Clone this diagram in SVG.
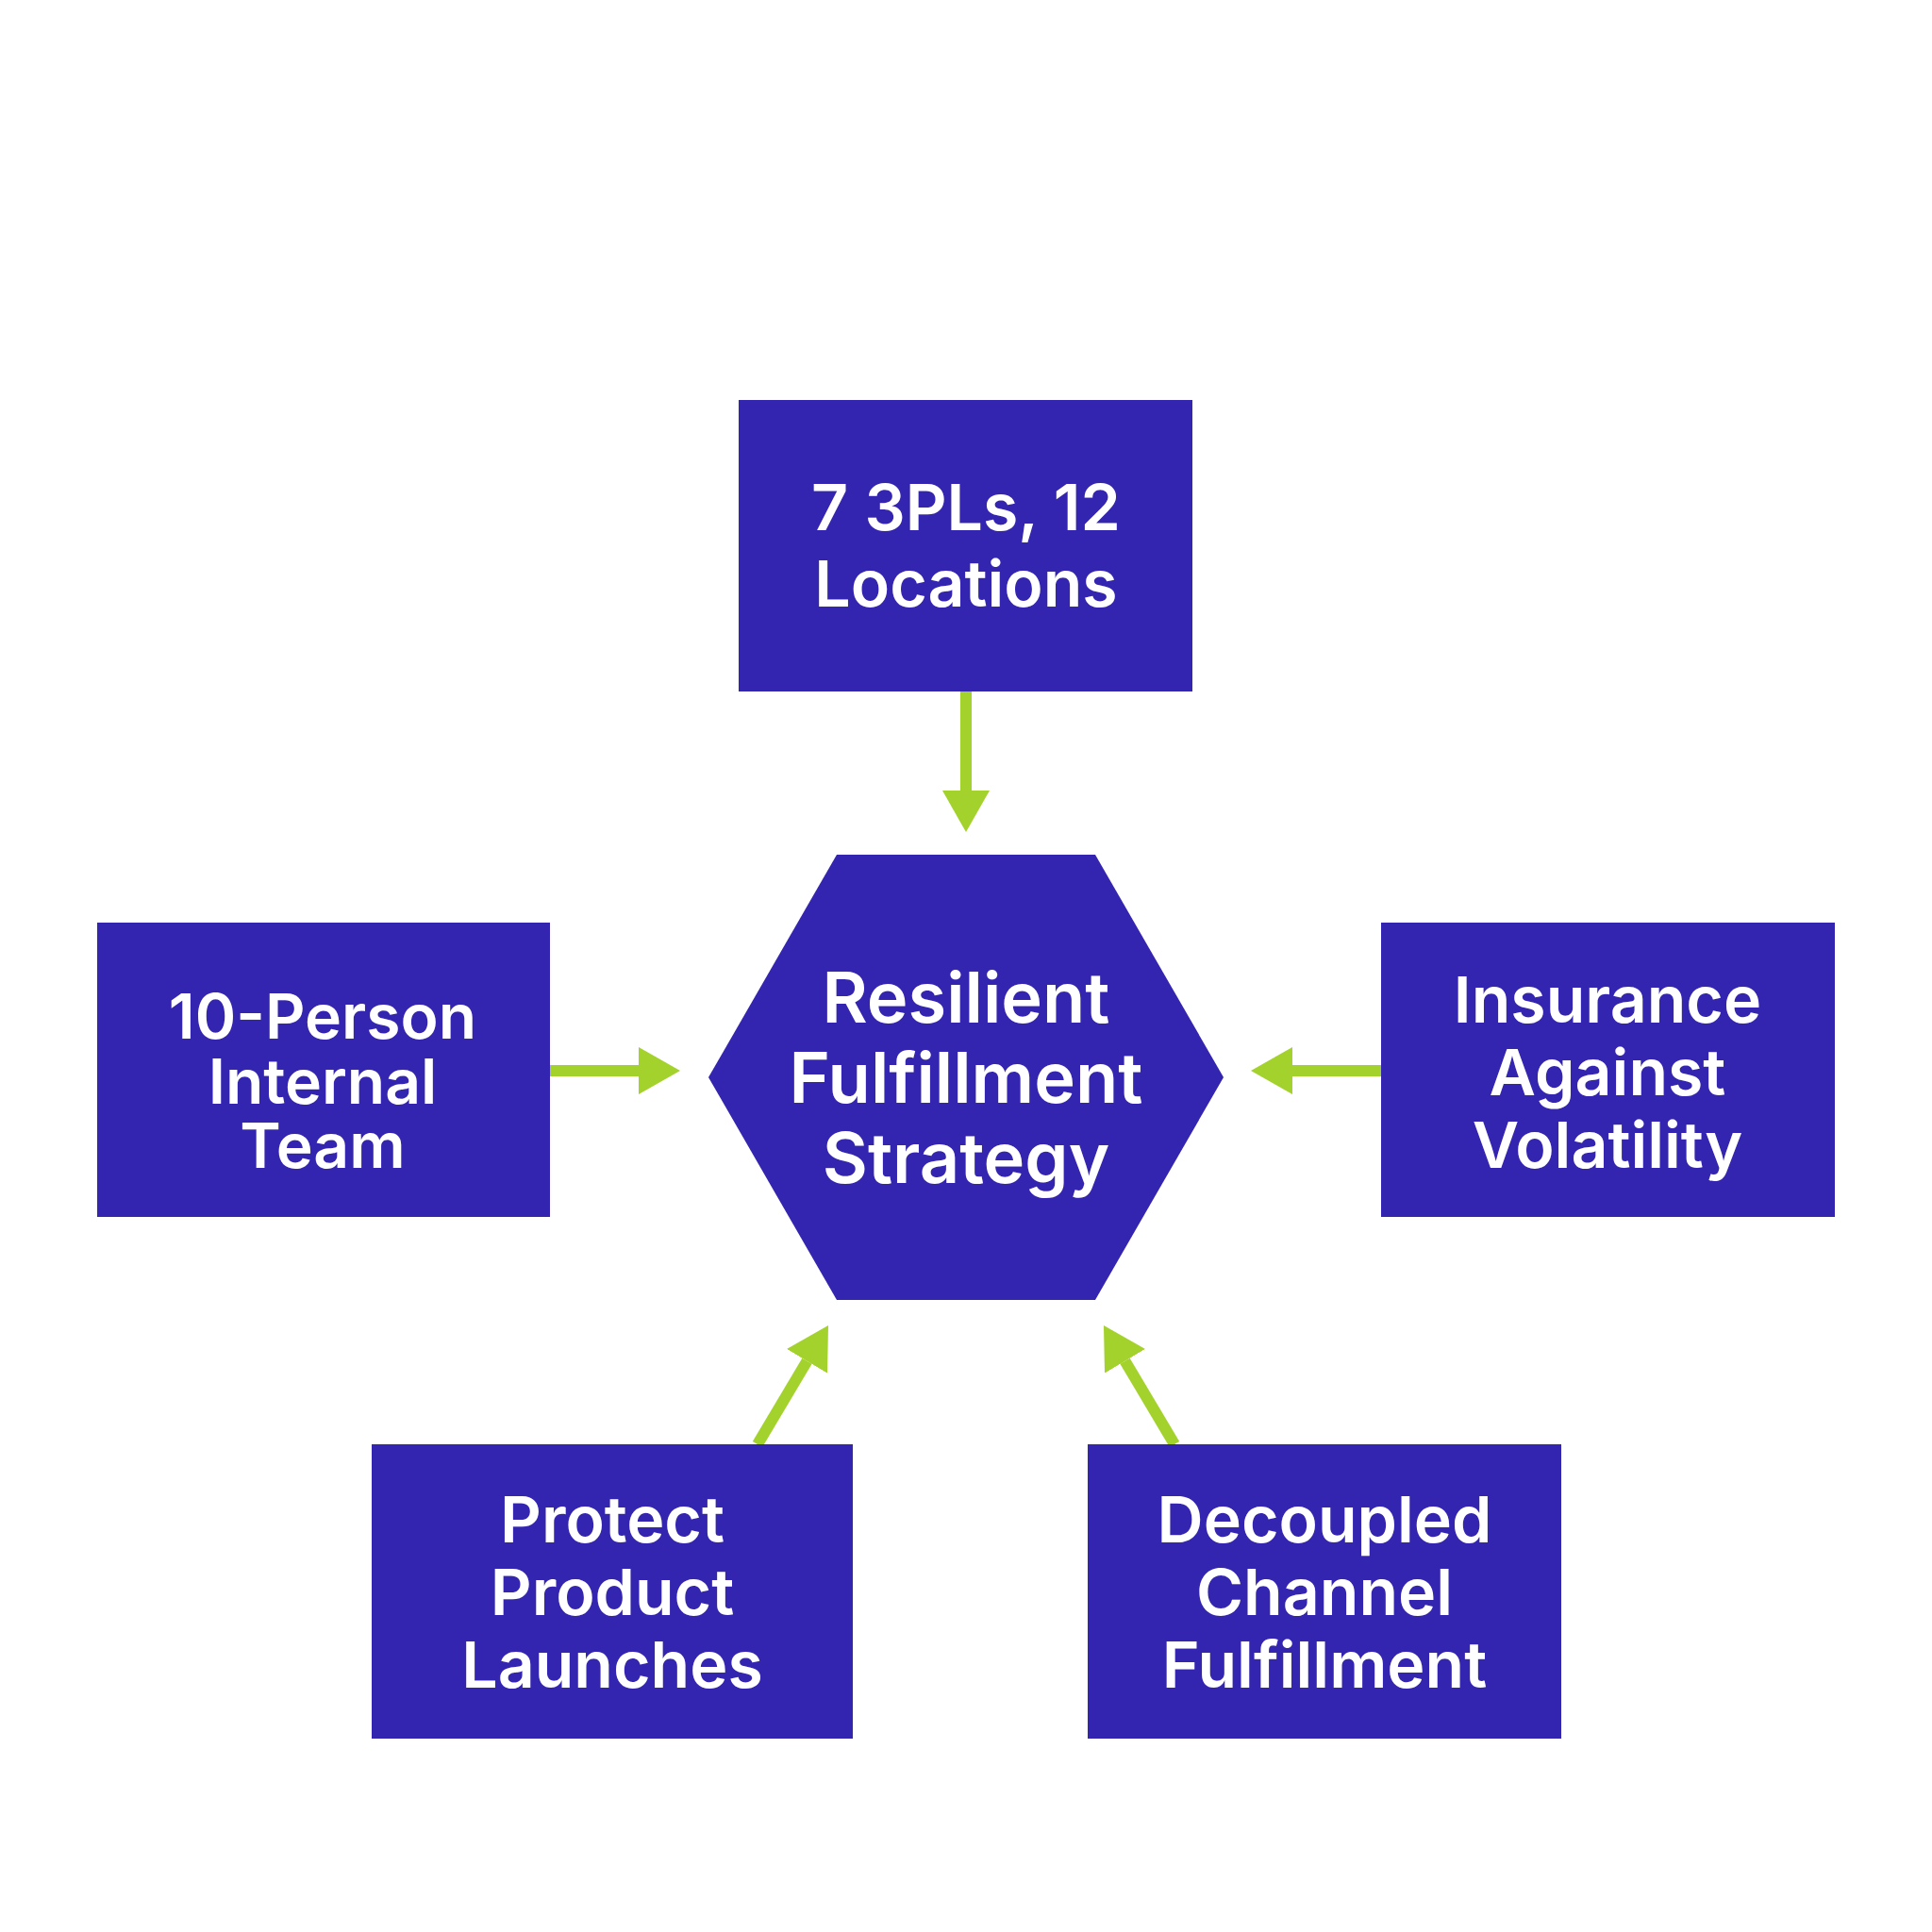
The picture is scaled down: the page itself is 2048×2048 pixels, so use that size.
<svg xmlns="http://www.w3.org/2000/svg" width="2048" height="2048" viewBox="0 0 2048 2048">
<style>
.node{fill:#3325B0;}
.lbl{font-family:Inter,"Liberation Sans",sans-serif;font-weight:600;fill:#ffffff;text-anchor:middle;}
.conn{stroke:#A3D22C;stroke-width:12;fill:none;}
</style>
<defs>
<marker id="ah" markerUnits="userSpaceOnUse" markerWidth="46" markerHeight="50" refX="0" refY="25" orient="auto" viewBox="0 0 46 50">
<path d="M0,0 L44,25 L0,50 z" fill="#A3D22C"/>
</marker>
</defs>
<rect width="2048" height="2048" fill="#ffffff"/>
<g id="connectors">
<line class="conn" x1="1024" y1="733" x2="1024" y2="838" marker-end="url(#ah)"/>
<line class="conn" x1="583" y1="1135" x2="677" y2="1135" marker-end="url(#ah)"/>
<line class="conn" x1="1464" y1="1135" x2="1370" y2="1135" marker-end="url(#ah)"/>
<line class="conn" x1="803" y1="1531" x2="855.5" y2="1442.8" marker-end="url(#ah)"/>
<line class="conn" x1="1245" y1="1531" x2="1192.5" y2="1442.8" marker-end="url(#ah)"/>
</g>
<g id="node-top">
<rect class="node" x="783" y="424" width="481" height="309"/>
<text class="lbl" font-size="68" x="1024" y="562">7 3PLs, 12</text>
<text class="lbl" font-size="68" x="1024" y="643">Locations</text>
</g>
<g id="node-center">
<polygon class="node" points="887,906 1161,906 1297,1142 1161,1378 887,1378 751,1142"/>
<text class="lbl" font-size="74" x="1024" y="1084">Resilient</text>
<text class="lbl" font-size="74" x="1024" y="1169">Fulfillment</text>
<text class="lbl" font-size="74" x="1024" y="1254">Strategy</text>
</g>
<g id="node-left">
<rect class="node" x="103" y="978" width="480" height="312"/>
<text class="lbl" font-size="66" x="342" y="1101">10-Person</text>
<text class="lbl" font-size="66" x="342" y="1170">Internal</text>
<text class="lbl" font-size="66" x="342" y="1238">Team</text>
</g>
<g id="node-right">
<rect class="node" x="1464" y="978" width="481" height="312"/>
<text class="lbl" font-size="68" x="1704" y="1084">Insurance</text>
<text class="lbl" font-size="68" x="1704" y="1161">Against</text>
<text class="lbl" font-size="68" x="1704" y="1238">Volatility</text>
</g>
<g id="node-bottom-left">
<rect class="node" x="394" y="1531" width="510" height="312"/>
<text class="lbl" font-size="68" x="649" y="1635">Protect</text>
<text class="lbl" font-size="68" x="649" y="1712">Product</text>
<text class="lbl" font-size="68" x="649" y="1789">Launches</text>
</g>
<g id="node-bottom-right">
<rect class="node" x="1153" y="1531" width="502" height="312"/>
<text class="lbl" font-size="68" x="1404" y="1635">Decoupled</text>
<text class="lbl" font-size="68" x="1404" y="1712">Channel</text>
<text class="lbl" font-size="68" x="1404" y="1789">Fulfillment</text>
</g>
</svg>
